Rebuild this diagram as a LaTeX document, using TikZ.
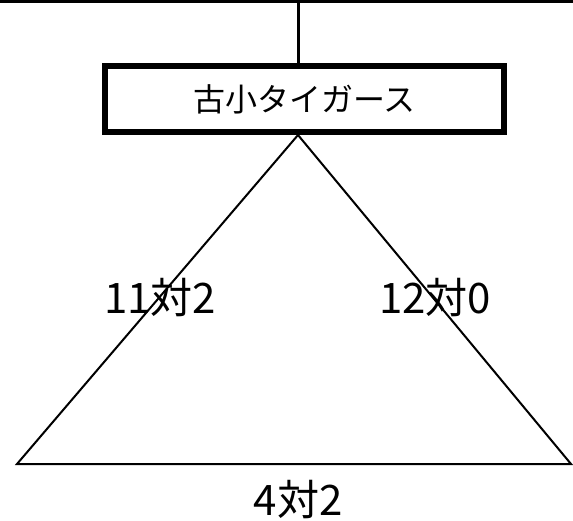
\documentclass[tikz,border=0pt]{standalone}
\usepackage{fontspec}
\setmainfont{Noto Sans CJK JP}
\usetikzlibrary{positioning}

\begin{document}
\begin{tikzpicture}[x=1pt,y=-1pt,
  team/.style={draw, line width=6pt, minimum width=399pt, minimum height=66pt, inner sep=0pt, font=\fontsize{32}{32}\selectfont},
  score/.style={inner sep=0pt, font=\fontsize{42}{42}\selectfont}]
\useasboundingbox (0,0) rectangle (573,520);
\coordinate (topL) at (0,1.5);
\coordinate (topR) at (573,1.5);
\coordinate (stem) at (298,1.5);
\node[team] (tigers) at (304.5,99) {古小タイガース};
\coordinate (apex) at (298,135);
\coordinate (baseL) at (17,464);
\coordinate (baseR) at (571,464);
\draw[line width=3pt] (topL) -- (topR);
\draw[line width=3pt] (stem) -- (stem |- tigers.north);
\draw[line width=2pt, line join=miter] (apex) -- (baseL) -- (baseR) -- cycle;
\node[score] (sL) at (160,298) {11対2};
\node[score] (sR) at (435,298) {12対0};
\node[score] (sB) at (298,500) {4対2};
\end{tikzpicture}
\end{document}
